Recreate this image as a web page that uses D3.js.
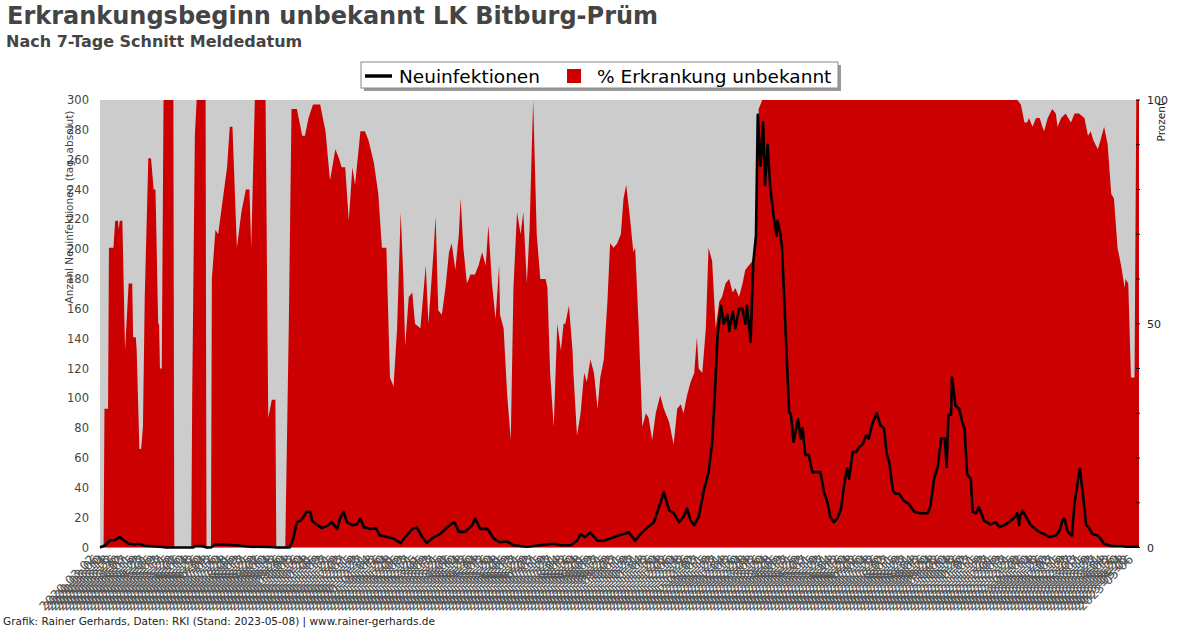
<!DOCTYPE html>
<html>
<head>
<meta charset="utf-8">
<script src="https://cdn.jsdelivr.net/npm/d3@7"></script>
<style>
  html, body { margin: 0; padding: 0; background: #fff; }
  svg { display: block; font-family: "DejaVu Sans", sans-serif; }
</style>
</head>
<body>
<svg id="chart" width="1200" height="628"></svg>
<script>
// Daily 7-day figures, stored as keypoints: day offset from START_DATE -> value.
const START_DATE = new Date(2020, 2, 2);
const END_DATE = new Date(2023, 4, 7);
const LABEL_STEP = 4; // one date label every n days

// % Erkrankung unbekannt (right axis)
const pctDay = [0,4,5,9,10,15,17,20,21,22,25,28,32,36,37,40,41,44,46,48,50,54,57,60,62,65,66,67,69,71,82,83,102,103,106,108,118,119,124,125,129,132,136,142,145,148,153,158,163,167,169,173,185,188,192,196,197,207,211,214,220,226,229,233,238,246,252,257,263,267,270,274,278,282,285,291,296,300,306,311,315,320,324,328,332,336,339,341,345,349,352,358,364,367,373,375,378,382,386,390,393,397,401,403,406,410,414,419,423,427,431,434,438,442,446,447,451,455,459,462,466,470,473,477,480,484,488,492,498,500,503,507,511,515,518,520,524,528,529,533,537,541,544,548,552,556,559,563,567,570,574,578,582,585,588,592,596,598,602,606,610,613,617,621,626,630,636,641,645,649,652,656,660,664,667,669,673,677,680,684,688,692,695,699,703,707,710,714,718,721,725,729,733,736,740,1025,1029,1033,1036,1038,1042,1046,1050,1053,1055,1059,1064,1068,1070,1074,1079,1085,1089,1094,1100,1104,1107,1110,1115,1118,1122,1126,1130,1133,1137,1141,1145,1146,1149,1152,1156,1158,1161];
const pctVal = [0,0,31,31,67,67,73,73,71,73,73,44,59,59,47,47,44,22,22,27,56,87,87,80,80,50,50,40,40,100,100,0,0,33,92,100,100,0,0,60,71,70,76,85,94,94,67,75,80,80,67,100,100,29,33,33,0,0,50,98,98,92,92,96,99,99,93,82,89,87,85,85,73,85,81,93,93,91,86,79,67,67,38,36,49,75,60,45,56,57,50,49,63,50,67,74,53,52,58,66,68,62,70,78,67,59,61,61,63,66,63,72,59,51,63,52,49,34,24,58,75,70,75,59,71,100,70,60,60,58,39,27,50,44,50,50,54,44,39,25,30,39,37,42,39,31,38,42,55,68,67,68,70,78,81,74,66,67,49,27,30,29,24,30,34,31,28,23,31,32,30,34,37,39,47,40,39,49,67,64,49,55,56,59,60,57,58,56,59,62,63,64,70,98,100,100,99,95,95,96,94,96,96,94,93,96,98,97,94,96,97,95,97,97,96,92,93,91,89,91,94,90,79,78,67,63,58,60,59,38,38,100,100];

// Neuinfektionen (left axis)
const caseDay = [0,6,11,17,22,26,32,39,43,50,58,70,73,104,106,114,119,124,129,136,151,168,190,197,209,212,216,220,224,227,231,235,237,242,248,254,259,265,268,272,276,282,287,291,295,302,308,313,321,328,336,341,349,354,360,365,373,380,386,391,396,401,408,416,419,425,433,440,447,455,462,477,492,507,515,526,533,537,542,548,556,563,570,582,591,598,604,611,619,624,630,636,641,647,652,656,660,664,669,675,680,684,687,690,694,697,701,703,707,710,714,718,721,723,727,730,733,735,738,741,743,746,749,753,756,757,760,762,766,770,772,775,780,783,785,788,792,796,800,805,809,813,816,820,824,828,832,835,837,841,845,848,852,856,859,863,868,872,876,879,882,886,889,893,898,904,910,917,925,928,932,936,940,944,946,948,951,952,956,960,964,966,969,973,975,979,982,988,995,1001,1005,1012,1020,1025,1027,1028,1031,1040,1048,1055,1061,1068,1072,1076,1078,1081,1086,1089,1093,1095,1098,1102,1105,1109,1115,1118,1122,1130,1141,1148,1161];
const caseVal = [0,1.5,4.7,5,7,5,2.5,2,2.5,1.2,0.8,0.3,0,0,1,1,0,0,2,2,1.5,0.5,0.3,0,0,0,6,17,18,20,24,24,18,15.5,13,14.5,17,12.5,19,24,17,15,15.5,19.5,13.5,12.5,13,8,7,6,3,7,12.5,13.5,7,3,7,9,12.5,15,17,10.5,10.5,15,19.5,12.5,12.5,6,3.5,4,1.5,0.5,1.5,2.5,1.5,1.5,4.5,9,7,10,4.5,4.5,6,8.5,10,4.5,9,13,17,26,37,25,23,17,20.5,26,18,15,20.5,39,50.5,70,102,142,162,150,156,145,158,147,160,160,150,162,138,191,209,290,256,285,243,270,241,221,209,219,211,202,147,91,89,71,86,73,80,62,62,50.5,50.5,50.5,37,30,20.5,17,19.5,26,44,53,46,64,64,67,69,75,73,83,90,82,80,63,57,38,36,36,31.5,29,24,23,23,28,46,54,73,73,54,89,89,114,95,93,83,80,49,46,24,23,27,18,15.5,17,13.5,15.5,19,23,15,21,24.5,15,11,9,7,8,11,19,19,11,8,30,46,53,37,15,13.5,9,8,6,2.5,1,1,0.5,0.5];

const leftTicks = [0,20,40,60,80,100,120,140,160,180,200,220,240,260,280,300];
const rightTicks = [0,10,20,30,40,50,60,70,80,90,100];
const rightLabels = [0,50,100];

const TITLE = "Erkrankungsbeginn unbekannt LK Bitburg-Prüm";
const SUBTITLE = "Nach 7-Tage Schnitt Meldedatum";
const FOOTER = "Grafik: Rainer Gerhards, Daten: RKI (Stand: 2023-05-08) | www.rainer-gerhards.de";

const svg = d3.select("#chart");
const plot = { left: 100, right: 1139, top: 100, bottom: 547.5 };

const nDays = d3.timeDay.count(START_DATE, END_DATE);
const x = d3.scaleLinear().domain([0, nDays]).range([plot.left, plot.right]);
const yL = d3.scaleLinear().domain([0, 300]).range([plot.bottom, plot.top]);
const yR = d3.scaleLinear().domain([0, 100]).range([plot.bottom, plot.top]);

// background
svg.append("rect")
  .attr("x", plot.left).attr("y", plot.top)
  .attr("width", plot.right - plot.left).attr("height", plot.bottom - plot.top)
  .attr("fill", "#cccccc");

// % area
const pct = pctDay.map((d, i) => ({ day: d, v: pctVal[i] }));
svg.append("path")
  .datum(pct)
  .attr("fill", "#cc0000")
  .attr("d", d3.area().x(d => x(d.day)).y0(yR(0)).y1(d => yR(d.v)));

// cases line
const cases = caseDay.map((d, i) => ({ day: d, v: caseVal[i] }));
svg.append("path")
  .datum(cases)
  .attr("fill", "none")
  .attr("stroke", "#000")
  .attr("stroke-width", 2.6)
  .attr("stroke-linejoin", "round")
  .attr("d", d3.line().x(d => x(d.day)).y(d => yL(d.v)));

// left axis labels
svg.append("g").selectAll("text")
  .data(leftTicks)
  .join("text")
  .attr("x", 89).attr("y", d => yL(d) + 4)
  .attr("text-anchor", "end")
  .attr("font-size", 11.5)
  .attr("fill", "#444")
  .text(d => d);

svg.append("text")
  .attr("transform", "translate(73,207) rotate(-90)")
  .attr("text-anchor", "middle")
  .attr("font-size", 10.5)
  .attr("fill", "#444")
  .text("Anzahl Neuinfektionen (tag. absolut)");

// right axis
svg.append("g").selectAll("line")
  .data(rightTicks)
  .join("line")
  .attr("x1", plot.right - 3).attr("x2", plot.right + 1)
  .attr("y1", d => yR(d)).attr("y2", d => yR(d))
  .attr("stroke", "#000").attr("stroke-width", 1);

svg.append("g").selectAll("text")
  .data(rightLabels)
  .join("text")
  .attr("x", 1147).attr("y", d => yR(d) + 4)
  .attr("font-size", 11)
  .attr("fill", "#222")
  .text(d => d);

svg.append("text")
  .attr("transform", "translate(1165,102) rotate(-90)")
  .attr("text-anchor", "end")
  .attr("font-size", 10.5)
  .attr("fill", "#222")
  .text("Prozent");

// date labels along the x axis
const fmt = d3.timeFormat("%Y-%m-%d");
const days = d3.timeDay.range(START_DATE, d3.timeDay.offset(END_DATE, 1), LABEL_STEP);
svg.append("g").selectAll("text")
  .data(days)
  .join("text")
  .attr("transform", d => `translate(${x(d3.timeDay.count(START_DATE, d)) - 4},560) rotate(-45)`)
  .attr("text-anchor", "end")
  .attr("font-size", 12.5)
  .attr("fill", "#555")
  .text(d => fmt(d));

// titles
svg.append("text").attr("x", 7).attr("y", 24)
  .attr("font-size", 24).attr("font-weight", "bold").attr("fill", "#444")
  .text(TITLE);
svg.append("text").attr("x", 6).attr("y", 47)
  .attr("font-size", 16).attr("font-weight", "bold").attr("fill", "#444")
  .text(SUBTITLE);

// legend
const lg = svg.append("g");
lg.append("rect").attr("x", 364).attr("y", 65).attr("width", 477).attr("height", 26).attr("fill", "#999");
lg.append("rect").attr("x", 361).attr("y", 62).attr("width", 477).attr("height", 26)
  .attr("fill", "#fff").attr("stroke", "#888").attr("stroke-width", 1);
lg.append("line").attr("x1", 365).attr("x2", 392).attr("y1", 76).attr("y2", 76)
  .attr("stroke", "#000").attr("stroke-width", 3.5);
lg.append("text").attr("x", 399).attr("y", 83).attr("font-size", 18.5).attr("fill", "#000").text("Neuinfektionen");
lg.append("rect").attr("x", 567).attr("y", 69).attr("width", 14).attr("height", 14).attr("fill", "#cc0000");
lg.append("text").attr("x", 597).attr("y", 83).attr("font-size", 18.5).attr("fill", "#000").text("% Erkrankung unbekannt");

// footer
svg.append("text").attr("x", 3).attr("y", 625)
  .attr("font-size", 10.5).attr("fill", "#222")
  .text(FOOTER);
</script>
</body>
</html>
